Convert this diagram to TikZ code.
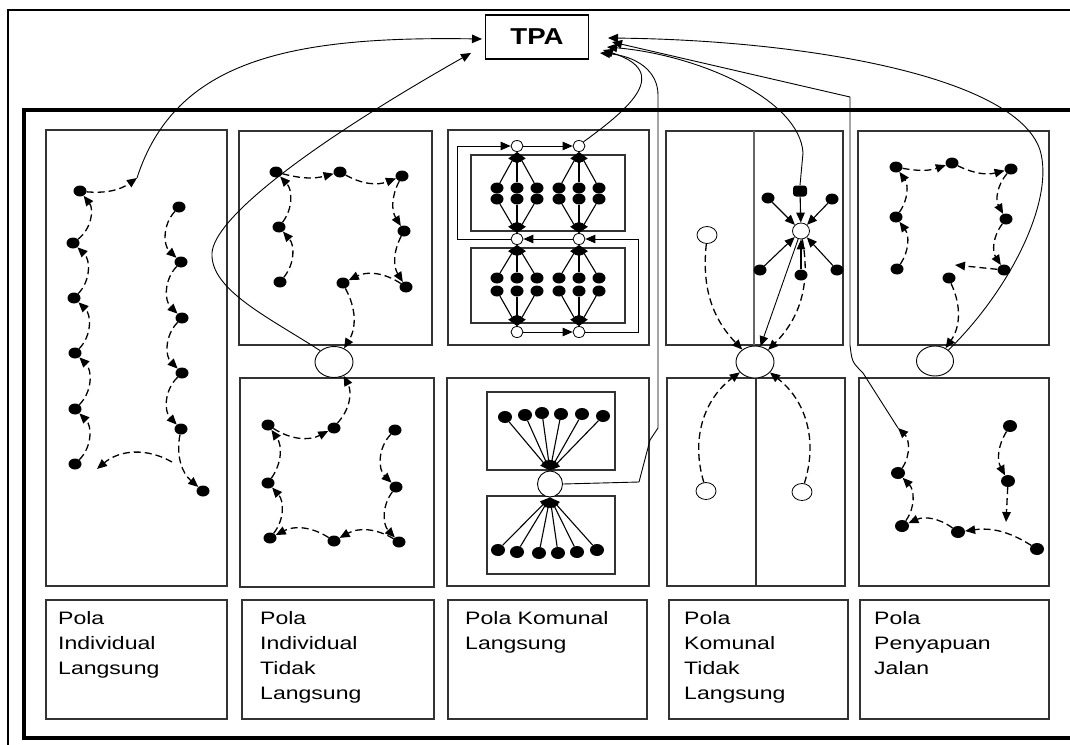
\documentclass[tikz,border=0pt]{standalone}
\usepackage{fontspec}
\setmainfont{Liberation Sans}
\newfontfamily\labelfont[FakeStretch=1.28]{Liberation Sans}
\newfontfamily\tpafont[FakeStretch=1.2]{Liberation Sans}
\usetikzlibrary{arrows.meta,shapes.geometric}

\begin{document}
\begin{tikzpicture}[x=1pt,y=-1pt,>={Triangle[length=10pt,width=8.5pt]},
    panel/.style={draw=black!80,line width=1.2pt},
    bin/.style={ellipse,fill=black,inner sep=0pt,minimum width=13pt,minimum height=11pt},
    bigbin/.style={bin,minimum width=14pt,minimum height=12pt},
    stop/.style={ellipse,draw,fill=white,inner sep=0pt,minimum width=12pt,minimum height=11pt,line width=0.8pt},
    depo/.style={ellipse,draw,fill=white,inner sep=0pt,minimum width=38pt,minimum height=31pt,line width=0.9pt},
    flow/.style={->,line width=1.3pt,dash pattern=on 7pt off 4pt},
    route/.style={->,line width=0.9pt},
    spoke/.style={->,line width=1.1pt},
    caption/.style={anchor=north west,align=left,inner sep=0pt,font=\labelfont\fontsize{18}{25}\selectfont}]
\useasboundingbox (0,0) rectangle (1070,744);
\clip (0,0) rectangle (1070,744);
\fill[white] (0,0) rectangle (1070,744);
\draw[line width=2.2pt] (8,10) rectangle (1100,780);
\draw[line width=4pt] (24,110) rectangle (1100,738);

% panels
\draw[panel] (46,130) rectangle (227,586);
\draw[panel] (239,131) rectangle (432,345);
\draw[panel] (240,378) rectangle (434,587);
\draw[panel] (448,130) rectangle (649,345);
\draw[panel] (447,378) rectangle (649,586);
\draw[panel] (666,131) rectangle (843,345);
\draw[panel] (667,378) rectangle (845,586);
\draw[panel] (858,131) rectangle (1049,345);
\draw[panel] (859,378) rectangle (1049,586);
\draw[panel,draw=black!60] (754,131) -- (754,345);
\draw[panel] (756,378) -- (756,586);
\draw[panel] (471,155) rectangle (625,231);
\draw[panel] (471,248) rectangle (625,323);
\draw[panel] (487,392) rectangle (615,470);
\draw[panel] (487,496) rectangle (615,574);
\foreach \l/\r in {46/227,242/434,448/647,669/848,860/1049}
  \draw[panel] (\l,600) rectangle (\r,719);

\node[caption] (cap1) at (58,611) {Pola\\Individual\\Langsung};
\node[caption] (cap2) at (260,611) {Pola\\Individual\\Tidak\\Langsung};
\node[caption] (cap3) at (465,611) {Pola Komunal\\Langsung};
\node[caption] (cap4) at (684,611) {Pola\\Komunal\\Tidak\\Langsung};
\node[caption] (cap5) at (874,611) {Pola\\Penyapuan\\Jalan};

\node[draw,line width=1.1pt,fill=white,minimum width=103pt,minimum height=44pt,
      font=\tpafont\bfseries\fontsize{23}{26}\selectfont] (tpa) at (537,37) {TPA};
\coordinate (tpaW) at (482,39);
\coordinate (tpaSW) at (471,53);
\coordinate (tpaE1) at (608,38);
\coordinate (tpaE2) at (612,42);
\coordinate (tpaE3) at (607,47);
\coordinate (tpaE4) at (603,50);
\coordinate (tpaE5) at (600,53);

% depots
\node[depo] (dep2) at (334,362) {};
\node[depo,minimum width=25pt,minimum height=26pt] (dep3) at (550,484) {};
\node[depo,minimum height=32pt] (dep4) at (755,362) {};
\node[depo,minimum width=37pt,minimum height=30pt] (dep5) at (935,361) {};

% Pola Individual Langsung
\begin{scope}[every node/.style={bin}]
    \node (a1) at (75,464) {};
    \node (a2) at (75,409) {};
    \node (a3) at (75,353) {};
    \node (a4) at (74,298) {};
    \node (a5) at (73,243) {};
    \node (a6) at (80,191) {};
    \node (b1) at (179,207) {};
    \node (b2) at (181,262) {};
    \node (b3) at (182,318) {};
    \node (b4) at (182,373) {};
    \node (b5) at (181,429) {};
    \node (b6) at (203,491) {};
\end{scope}
\coordinate (k1) at (137,178);
\coordinate (j1) at (172,462);
\coordinate (m1) at (97,469);
\foreach \p/\q in {a1/a2,a2/a3,a3/a4,a4/a5,a5/a6,b1/b2,b2/b3,b3/b4,b4/b5}
    \draw[flow] (\p) to[bend right=45] (\q);
\draw[flow] (b5) to[bend right=30] (b6);
\draw[flow] (j1) to[bend right=35] (m1);
\draw[flow] (a6) to[bend right=20] (k1);
\draw[route] (k1) .. controls (175,60) and (290,36) .. (tpaW);

% Pola Individual Tidak Langsung
\begin{scope}[every node/.style={bin}]
    \node (c1) at (280,282) {};
    \node (c2) at (279,227) {};
    \node (c3) at (276,172) {};
    \node (c4) at (340,172) {};
    \node (c5) at (402,176) {};
    \node (c6) at (404,231) {};
    \node (c7) at (406,287) {};
    \node (c8) at (343,283) {};
    \node (d1) at (395,430) {};
    \node (d2) at (396,487) {};
    \node (d3) at (399,542) {};
    \node (d4) at (334,541) {};
    \node (d5) at (270,538) {};
    \node (d6) at (268,483) {};
    \node (d7) at (268,425) {};
    \node (d8) at (334,428) {};
\end{scope}
\foreach \p/\q/\b in {c1/c2/40,c2/c3/40,c3/c4/15,c4/c5/25,c5/c6/30,c6/c7/30,c7/c8/30,
    d1/d2/45,d2/d3/40,d3/d4/30,d4/d5/30,d5/d6/40,d6/d7/35,d7/d8/30,d8/dep2/35}
    \draw[flow] (\p) to[bend right=\b] (\q);
\draw[flow] (c8) to[bend left=30] (dep2);
\draw[route] (dep2.north west) .. controls (270,318) and (210,290) .. (212,253)
    .. controls (214,220) and (300,150) .. (tpaSW);

% Pola Komunal Langsung
\begin{scope}[every node/.style={stop}]
    \node (s1) at (517,146) {};
    \node (s2) at (579,146) {};
    \node (s3) at (517,239) {};
    \node (s4) at (579,239) {};
    \node (s5) at (517,332) {};
    \node (s6) at (579,332) {};
\end{scope}
\foreach \cx/\up/\dn/\ra/\rb/\nm in {517/s1/s3/188/199/p,579/s2/s4/188/199/q,
    517/s3/s5/278/291/r,579/s4/s6/278/291/u} {
    \foreach \dx [count=\i] in {-20,0,20} {
        \node[bin] (\nm a\i) at (\cx+\dx,\ra) {};
        \node[bin] (\nm b\i) at (\cx+\dx,\rb) {};
        \draw[spoke] (\nm a\i) -- (\up.south);
        \draw[spoke] (\nm b\i) -- (\dn.north);
    }
}
\draw[route] (s3.west) -- (457,239) -- (457,146) -- (s1);
\draw[route] (s1) -- (s2);
\draw[route] (s5) -- (s6);
\draw[route] (s6.east) -- (638,332) -- (638,239) -- (s4);
\draw[route] (s4) -- (s3);
\draw[route] (s2.north east) .. controls (630,108) and (672,72) .. (tpaE4);

\foreach \x/\y [count=\i] in {505/417,525/415,542/413,561/414,582/414,603/416} {
    \node[bigbin] (ta\i) at (\x,\y) {};
    \draw[spoke] (ta\i) -- (dep3.north);
}
\foreach \x/\y [count=\i] in {498/550,517/552,539/553,558/553,577/552,597/550} {
    \node[bigbin] (tb\i) at (\x,\y) {};
    \draw[spoke] (tb\i) -- (dep3.south);
}
\draw[route] (dep3.east) -- (639,482) -- (650,440) -- (658,428) -- (658,95)
    .. controls (658,70) and (635,56) .. (tpaE5);

% Pola Komunal Tidak Langsung
\node[stop,minimum width=17pt,minimum height=16pt] (t0) at (801,231) {};
\begin{scope}[every node/.style={bin}]
    \node[rectangle,rounded corners=3pt,minimum width=14pt] (e1) at (800,191) {};
    \node (e2) at (768,198) {};
    \node (e3) at (832,199) {};
    \node (e4) at (760,270) {};
    \node (e5) at (801,275) {};
    \node (e6) at (837,270) {};
\end{scope}
\foreach \p in {e1,e2,e3,e4,e5,e6}
    \draw[spoke] (\p) -- (t0);
\begin{scope}[every node/.style={stop,minimum width=20pt,minimum height=17pt}]
    \node (o1) at (707,235) {};
    \node (o2) at (706,491) {};
    \node (o3) at (802,492) {};
\end{scope}
\draw[flow] (o1) to[bend right=25] (dep4);
\draw[flow] (t0) to[bend left=28] (dep4);
\draw[flow] (o2) to[bend left=35] (dep4);
\draw[flow] (o3) to[bend right=35] (dep4);
\draw[route] (t0) -- (dep4);
\draw[route] (e1.north) -- (803,153) .. controls (800,100) and (700,55) .. (tpaE3);

% Pola Penyapuan Jalan
\begin{scope}[every node/.style={bin}]
    \node (f1) at (897,269) {};
    \node (f2) at (896,217) {};
    \node (f3) at (896,167) {};
    \node (f4) at (952,163) {};
    \node (f5) at (1011,169) {};
    \node (f6) at (1006,219) {};
    \node (f7) at (1004,270) {};
    \node (f8) at (949,278) {};
    \node[bigbin] (g1) at (1010,426) {};
    \node[bigbin] (g2) at (1008,481) {};
    \node[bigbin] (g3) at (1037,549) {};
    \node[bigbin] (g4) at (958,532) {};
    \node[bigbin] (g5) at (902,526) {};
    \node[bigbin] (g6) at (898,473) {};
\end{scope}
\coordinate (m5) at (955,265);
\coordinate (j5) at (1006,522);
\coordinate (k5) at (898,428);
\foreach \p/\q/\b in {f1/f2/35,f2/f3/35,f3/f4/15,f4/f5/20,f5/f6/35,f6/f7/35,
    g1/g2/30,g3/g4/20,g4/g5/30,g5/g6/40,g6/k5/40}
    \draw[flow] (\p) to[bend right=\b] (\q);
\draw[flow] (f7) -- (m5);
\draw[flow] (f8) to[bend left=30] (dep5);
\draw[flow] (g2) -- (j5);
\draw[route] (dep5.north east) .. controls (1010,290) and (1055,200) .. (1040,150)
    .. controls (1015,75) and (800,40) .. (tpaE1);
\draw[route] (k5) -- (863,373) .. controls (852,362) .. (850,345) -- (850,97) -- (tpaE2);
\end{tikzpicture}
\end{document}
